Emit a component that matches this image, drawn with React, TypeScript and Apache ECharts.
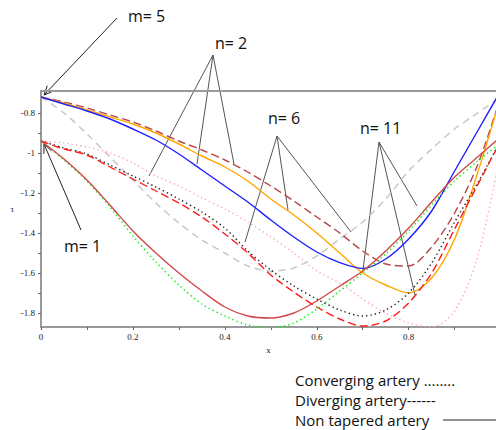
import React, { useEffect, useRef } from "react";
import * as echarts from "echarts";

const xValues = [0, 0.05, 0.1, 0.15, 0.2, 0.25, 0.3, 0.35, 0.4, 0.45, 0.5, 0.55, 0.6, 0.65, 0.7, 0.75, 0.8, 0.85, 0.9, 0.95, 1.0];

const m5Blue = [-0.72, -0.755, -0.79, -0.83, -0.88, -0.935, -1.005, -1.085, -1.165, -1.245, -1.335, -1.42, -1.495, -1.548, -1.577, -1.53, -1.43, -1.29, -1.09, -0.89, -0.69];
const m5Orange = [-0.72, -0.75, -0.785, -0.82, -0.855, -0.9, -0.955, -1.015, -1.07, -1.14, -1.23, -1.31, -1.4, -1.5, -1.6, -1.66, -1.7, -1.625, -1.43, -1.1, -0.72];
const m5BrownDash = [-0.72, -0.745, -0.775, -0.81, -0.845, -0.89, -0.94, -0.985, -1.035, -1.095, -1.165, -1.24, -1.32, -1.4, -1.49, -1.555, -1.565, -1.47, -1.3, -1.06, -0.72];
const m5GrayDash = [-0.72, -0.8, -0.905, -1.02, -1.135, -1.25, -1.35, -1.435, -1.5, -1.565, -1.59, -1.575, -1.515, -1.43, -1.345, -1.23, -1.09, -0.98, -0.88, -0.8, -0.72];
const m1RedSolid = [-0.94, -1.03, -1.135, -1.26, -1.39, -1.5, -1.6, -1.69, -1.77, -1.815, -1.825, -1.8, -1.74, -1.665, -1.59, -1.49, -1.375, -1.245, -1.12, -1.02, -0.92];
const m1GreenDot = [-0.94, -1.035, -1.14, -1.27, -1.415, -1.545, -1.66, -1.755, -1.815, -1.86, -1.875, -1.85, -1.78, -1.69, -1.6, -1.505, -1.39, -1.26, -1.14, -1.04, -0.95];
const m1RedDash = [-0.94, -0.98, -1.01, -1.07, -1.13, -1.19, -1.25, -1.32, -1.405, -1.5, -1.61, -1.695, -1.77, -1.83, -1.865, -1.84, -1.75, -1.6, -1.38, -1.16, -0.94];
const m1BlackDot = [-0.94, -0.975, -1.005, -1.06, -1.115, -1.17, -1.23, -1.295, -1.375, -1.49, -1.585, -1.665, -1.73, -1.785, -1.815, -1.785, -1.7, -1.55, -1.345, -1.15, -0.94];
const m1PinkDot = [-0.94, -0.95, -0.97, -1.0, -1.05, -1.115, -1.165, -1.225, -1.28, -1.345, -1.42, -1.5, -1.59, -1.65, -1.73, -1.8, -1.85, -1.87, -1.79, -1.52, -1.0];

const xTickValues = [0, 0.1, 0.2, 0.3, 0.4, 0.5, 0.6, 0.7, 0.8, 0.9];
const xLabelValues = [0, 0.2, 0.4, 0.6, 0.8];
const yTickValues = [-0.8, -0.9, -1, -1.1, -1.2, -1.3, -1.4, -1.5, -1.6, -1.7, -1.8];
const yLabelValues = [-0.8, -1, -1.2, -1.4, -1.6, -1.8];

const legendLines = ["Converging artery ........", "Diverging artery------", "Non tapered artery"];

function pairs(ys: number[]) {
  return xValues.map((x, i) => [x, ys[i]]);
}

function line(name: string, ys: number[], color: string, type: any, width = 1.4) {
  return {
    name,
    type: "line",
    data: pairs(ys),
    symbol: "none",
    smooth: 0.3,
    lineStyle: { color, width, type },
  };
}

function arrow(x1: number, y1: number, x2: number, y2: number) {
  const dx = x2 - x1;
  const dy = y2 - y1;
  const len = Math.sqrt(dx * dx + dy * dy);
  const ux = dx / len;
  const uy = dy / len;
  const bx = x2 - ux * 9;
  const by = y2 - uy * 9;
  const px = -uy;
  const py = ux;
  const stroke = { stroke: "#222", lineWidth: 1 };
  return [
    { type: "line", shape: { x1, y1, x2, y2 }, style: stroke },
    {
      type: "polyline",
      shape: { points: [[bx + px * 4, by + py * 4], [x2, y2], [bx - px * 4, by - py * 4]] },
      style: { ...stroke, fill: null },
    },
  ];
}

function fan(ax: number, ay: number, ends: number[][]) {
  return ends.map((e) => ({
    type: "line",
    shape: { x1: ax, y1: ay, x2: e[0], y2: e[1] },
    style: { stroke: "#555", lineWidth: 1 },
  }));
}

function label(text: string, x: number, y: number, size = 16) {
  return {
    type: "text",
    x,
    y,
    style: {
      text,
      fill: "#111",
      font: `${size}px "Open Sans", sans-serif`,
      verticalAlign: "middle",
      align: "left",
    },
  };
}

export default function App() {
  const ref = useRef<HTMLDivElement>(null);
  useEffect(() => {
    if (!ref.current) return;
    const chart = echarts.init(ref.current, undefined, { renderer: "svg" });
    const axisFont = { fontFamily: "Liberation Serif", fontSize: 9, color: "#222" };
    chart.setOption({
      animation: false,
      backgroundColor: "#fff",
      grid: { left: 41, right: 0, top: 91, bottom: 103 },
      xAxis: [
        {
          type: "value",
          min: 0,
          max: 0.99,
          name: "x",
          nameLocation: "middle",
          nameGap: 18,
          nameTextStyle: { ...axisFont },
          axisLine: { show: true, lineStyle: { color: "#999", width: 2 } },
          axisTick: { show: true, length: 3, customValues: xTickValues, lineStyle: { color: "#666" } },
          axisLabel: { customValues: xLabelValues, margin: 5, ...axisFont },
          splitLine: { show: false },
        },
        {
          type: "value",
          position: "top",
          min: 0,
          max: 0.99,
          axisLine: { show: true, lineStyle: { color: "#999", width: 2 } },
          axisTick: { show: false },
          axisLabel: { show: false },
          splitLine: { show: false },
        },
      ],
      yAxis: {
        type: "value",
        min: -1.87,
        max: -0.69,
        name: "τ",
        nameLocation: "middle",
        nameGap: 27,
        nameRotate: 0,
        nameTextStyle: { ...axisFont },
        axisLine: { show: true, lineStyle: { color: "#999", width: 2 } },
        axisTick: { show: true, length: 3, customValues: yTickValues, lineStyle: { color: "#666" } },
        axisLabel: { customValues: yLabelValues, margin: 6, ...axisFont },
        splitLine: { show: false },
      },
      series: [
        line("m5 gray", m5GrayDash, "#c8c8c8", [7, 5], 1.5),
        line("m1 pink", m1PinkDot, "#ffa8b6", [1.4, 3], 1.4),
        line("m5 brown", m5BrownDash, "#b5474b", [8, 4], 1.4),
        line("m5 orange", m5Orange, "#ffa500", "solid", 1.4),
        line("m5 blue", m5Blue, "#1f1fff", "solid", 1.4),
        line("m1 black", m1BlackDot, "#222", [1.4, 3], 1.4),
        line("m1 reddash", m1RedDash, "#ff1a1a", [8, 4], 1.4),
        line("m1 green", m1GreenDot, "#11ee11", [1.4, 3], 1.5),
        line("m1 red", m1RedSolid, "#d04848", "solid", 1.4),
      ],
      graphic: [
        ...arrow(117, 18, 44, 95),
        ...arrow(81, 230, 44, 144),
        ...fan(213, 55, [[149, 176], [197, 164], [234, 164]]),
        ...fan(277, 136, [[245, 242], [288, 210], [351, 232]]),
        ...fan(379, 142, [[363, 270], [415, 295], [417, 206]]),
        label("m= 5", 128, 16),
        label("n= 2", 215, 43),
        label("n= 6", 268, 118),
        label("n= 11", 360, 128),
        label("m= 1", 64, 246),
        label(legendLines[0], 295, 380, 15),
        label(legendLines[1], 295, 400, 15),
        label(legendLines[2], 295, 420, 15),
        { type: "line", shape: { x1: 443, y1: 420, x2: 496, y2: 420 }, style: { stroke: "#222", lineWidth: 1 } },
      ],
    });
    return () => chart.dispose();
  }, []);
  return (
    <div
      ref={ref}
      style={{ position: "fixed", left: 0, top: 0, width: 496, height: 430, background: "#fff" }}
    />
  );
}
